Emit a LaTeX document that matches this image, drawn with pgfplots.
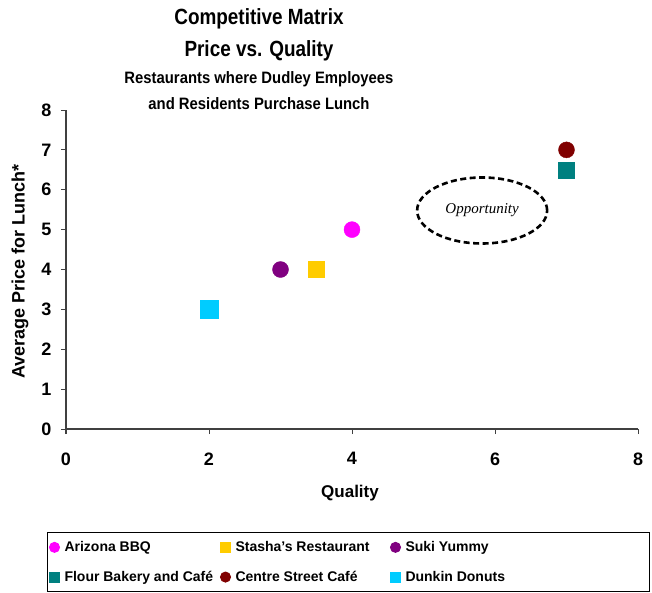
\documentclass[border=0pt]{standalone}
\usepackage{fontspec}
\setmainfont{Liberation Sans}
\newfontfamily\serifit{Liberation Serif}
\usepackage{pgfplots}
\pgfplotsset{compat=1.18}

\definecolor{cMagenta}{HTML}{FF00FF}
\definecolor{cGold}{HTML}{FFCC00}
\definecolor{cPurple}{HTML}{800080}
\definecolor{cTeal}{HTML}{008080}
\definecolor{cDarkRed}{HTML}{800000}
\definecolor{cCyan}{HTML}{00CCFF}
\definecolor{axisgray}{HTML}{404040}

\begin{document}
\begin{tikzpicture}
\path[use as bounding box] (-66pt,-163pt) rectangle (586pt,429pt);
\begin{axis}[
    scale only axis,
    width=572pt, height=319pt,
    xmin=0, xmax=8, ymin=0, ymax=8,
    xtick={0,2,...,8}, ytick={0,1,...,8},
    axis lines=left,
    axis line style={axisgray, line width=1.3pt, -},
    tick style={axisgray, line width=1pt},
    tick align=outside,
    major tick length=5pt,
    /pgf/number format/assume math mode=true,
    every tick label/.append style={font=\fontsize{18}{20}\selectfont\bfseries},
    xticklabel style={yshift=-15pt},
    yticklabel style={xshift=-6pt},
    xlabel={Quality},
    ylabel={Average Price for Lunch*},
    xlabel style={font=\fontsize{17}{20}\selectfont\bfseries,
        at={(axis description cs:0.4965,-0.2)}, anchor=center},
    ylabel style={font=\fontsize{18}{20}\selectfont\bfseries,
        at={(axis description cs:-0.0804,0.493)}, anchor=center},
    clip=false,
    only marks,
    legend columns=3,
    legend style={at={(axis description cs:-0.0332,-0.323)}, anchor=north west,
        draw=black, line width=1pt,
        font=\fontsize{14}{16}\selectfont\bfseries,
        inner xsep=2pt, inner ysep=7pt, row sep=14pt,
        /tikz/every odd column/.append style={column sep=3pt}},
    legend image code/.code={\draw[#1, mark size=5pt] plot coordinates {(0pt,0pt)};},
]
\addplot[mark=*, mark size=8pt, color=cMagenta] coordinates {(4,5)};
\addplot[mark=square*, mark size=8pt, color=cGold] coordinates {(3.5,4)};
\addplot[mark=*, mark size=8pt, color=cPurple] coordinates {(3,4)};
\addplot[mark=square*, mark size=8pt, color=cTeal] coordinates {(7,6.5)};
\addplot[mark=*, mark size=8pt, color=cDarkRed] coordinates {(7,7)};
\addplot[mark=square*, mark size=9pt, color=cCyan] coordinates {(2,3)};
\legend{\makebox[154pt][l]{Arizona BBQ},
        \makebox[153pt][l]{Stasha's Restaurant},
        \makebox[240pt][l]{Suki Yummy},
        \makebox[154pt][l]{Flour Bakery and Café},
        \makebox[153pt][l]{Centre Street Café},
        \makebox[240pt][l]{Dunkin Donuts}}
\draw[black, line width=2.6pt, dash pattern=on 6pt off 3.5pt]
    (axis cs:5.82,5.48) ellipse [x radius=65pt, y radius=33pt];
\node[font=\serifit\itshape\fontsize{15}{17}\selectfont] at (axis cs:5.82,5.48) {Opportunity};
\end{axis}
\node[font=\fontsize{22}{24}\selectfont\bfseries, xscale=0.86] at (193pt,410pt) {Competitive Matrix};
\node[font=\fontsize{22}{24}\selectfont\bfseries, xscale=0.86] at (193pt,378pt) {Price vs. Quality};
\node[font=\fontsize{16.5}{18}\selectfont\bfseries, xscale=0.9] at (193pt,350pt) {Restaurants where Dudley Employees};
\node[font=\fontsize{16.5}{18}\selectfont\bfseries, xscale=0.9] at (193pt,325pt) {and Residents Purchase Lunch};
\end{tikzpicture}
\end{document}
